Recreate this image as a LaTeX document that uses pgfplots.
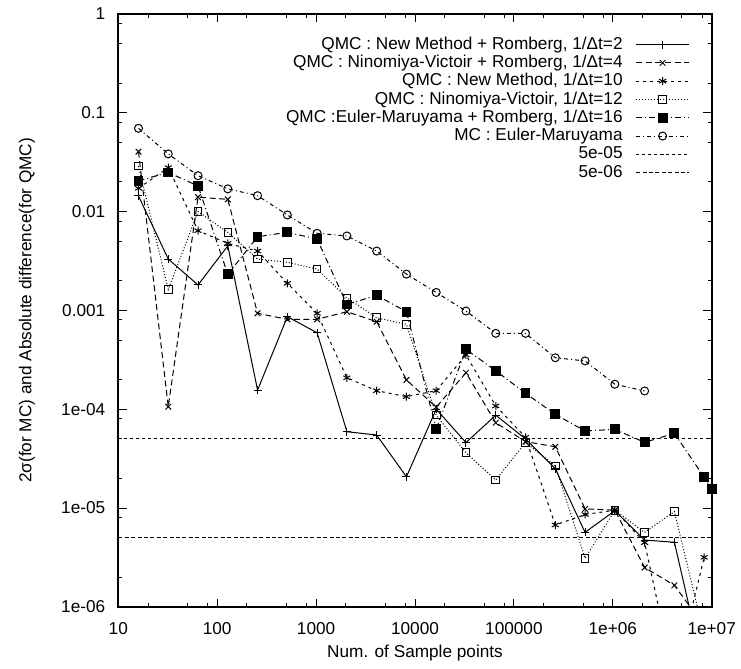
\documentclass[border=0pt]{standalone}
\usepackage{fontspec}
\setmainfont{Liberation Sans}
\usepackage{pgfplots}
\pgfplotsset{compat=1.18}
\begin{document}
\begin{tikzpicture}[font=\fontsize{8.6}{10.3}\selectfont]
\begin{loglogaxis}[
  scale only axis, width=296.7pt, height=296.4pt,
  xmin=10, xmax=1e7, ymin=1e-6, ymax=1,
  xtick={10,100,1000,10000,100000,1000000,10000000},
  xticklabels={10,100,1000,10000,100000,1e+06,1e+07},
  ytick={1e-6,1e-5,1e-4,1e-3,1e-2,1e-1,1},
  yticklabels={1e-06,1e-05,1e-04,0.001,0.01,0.1,1},
  minor xtick={20,50,80,200,500,800,2000,5000,8000,20000,50000,80000,200000,500000,800000,2000000,5000000,8000000},
  minor ytick={2e-6,5e-6,8e-6,2e-5,5e-5,8e-5,2e-4,5e-4,8e-4,2e-3,5e-3,8e-3,2e-2,5e-2,8e-2,0.2,0.5,0.8},
  major tick length=4.15pt, minor tick length=2.1pt,
  tick align=inside,
  axis line style={line width=1pt},
  every tick/.style={black, line width=0.5pt},
  xticklabel style={yshift=-4.3pt},
  yticklabel style={xshift=-3pt},
  every axis x label/.style={at={(rel axis cs:0.5,-0.0776)}, anchor=center},
  every axis y label/.style={at={(rel axis cs:-0.1539,0.5)}, rotate=90, anchor=center},
  xlabel={Num. of Sample points},
  ylabel={2σ(for MC) and Absolute difference(for QMC)},
  every axis plot/.append style={line width=0.5pt, black},
  legend image code/.code={\draw[#1,mark indices={2}] plot coordinates {(0pt,0pt) (13.25pt,0pt) (26.5pt,0pt)};},
  legend style={at={(rel axis cs:1,1)}, anchor=north east, xshift=-10.85pt, yshift=-10.5pt,
    draw=none, fill=none, inner sep=0pt, column sep=6pt, row sep=0pt,
    nodes={inner sep=0.5pt, text height=6.35pt, text depth=1.8pt}},
  legend cell align=right, legend plot pos=right,
]
\coordinate (SW) at (rel axis cs:0,0);
\coordinate (NE) at (rel axis cs:1,1);
% QMC : New Method + Romberg, 1/dt=2
\addplot[solid, mark=+, mark size=2pt, mark options={solid}] coordinates {
(16,0.0144) (32,0.00331) (64,0.00181) (128,0.0045) (256,0.000156) (512,0.000864)
(1024,0.000594) (2048,5.92e-5) (4096,5.48e-5) (8192,2.07e-5) (16384,1.0e-4)
(32768,4.6e-5) (65536,8.7e-5) (131072,5.0e-5) (262144,2.5e-5) (524288,5.67e-6)
(1048576,9.4e-6) (2097152,4.74e-6) (4194304,4.5e-6) (8388608,2.2e-7)};
\addlegendentry{QMC : New Method + Romberg, 1/Δt=2}
% QMC : NV + Romberg, 1/dt=4
\addplot[dash pattern=on 3pt off 1.8pt, mark=x, mark size=2pt, mark options={solid}] coordinates {
(16,0.0404) (32,1.06e-4) (64,0.014) (128,0.0133) (256,0.000934) (512,0.000813)
(1024,0.000813) (2048,0.00097) (4096,0.000769) (8192,0.000198) (16384,1.05e-4)
(32768,0.000234) (65536,7.3e-5) (131072,4.7e-5) (262144,4.17e-5) (524288,9.8e-6)
(1048576,9.5e-6) (2097152,2.5e-6) (4194304,1.65e-6) (8388608,6.4e-7)};
\addlegendentry{QMC : Ninomiya-Victoir + Romberg, 1/Δt=4}
% QMC : New Method, 1/dt=10
\addplot[dash pattern=on 1.5pt off 2pt, mark=asterisk, mark size=2pt, mark options={solid}] coordinates {
(16,0.0172) (32,0.0279) (64,0.00641) (128,0.00477) (256,0.00399) (512,0.00188)
(1024,0.000934) (2048,0.000208) (4096,0.000154) (8192,0.000134) (16384,0.000154)
(32768,0.000354) (65536,0.000108) (131072,5.2e-5) (262144,6.73e-6) (524288,8.6e-6)
(1048576,9.5e-6) (2097152,4.46e-6) (4194304,1.8e-7) (8388608,3.17e-6)};
\addlegendentry{QMC : New Method, 1/Δt=10}
% QMC : NV, 1/dt=12
\addplot[dash pattern=on 0.5pt off 1pt, mark=square, mark size=1.9pt, mark options={solid}] coordinates {
(16,0.0289) (32,0.00163) (64,0.01) (128,0.00617) (256,0.00331) (512,0.00307)
(1024,0.00262) (2048,0.00134) (4096,0.000843) (8192,0.000723) (16384,8.7e-5)
(32768,3.63e-5) (65536,1.92e-5) (131072,4.6e-5) (262144,2.66e-5) (524288,3.1e-6)
(1048576,9.5e-6) (2097152,5.67e-6) (4194304,9.2e-6) (8388608,5.2e-7)};
\addlegendentry{QMC : Ninomiya-Victoir, 1/Δt=12}
% QMC : EM + Romberg, 1/dt=16
\addplot[dash pattern=on 3pt off 1.5pt on 0.5pt off 1.5pt, mark=square*, mark size=2.2pt, mark options={solid}] coordinates {
(16,0.0205) (32,0.0249) (64,0.0182) (128,0.00232) (256,0.00557) (512,0.00617)
(1024,0.00528) (2048,0.00115) (4096,0.00142) (8192,0.00097) (16384,6.3e-5)
(32768,0.000404) (65536,0.000245) (131072,0.000145) (262144,8.87e-5) (524288,6.02e-5)
(1048576,6.25e-5) (2097152,4.62e-5) (4194304,5.7e-5) (8388608,2.05e-5) (10000000,1.55e-5)};
\addlegendentry{QMC :Euler-Maruyama + Romberg, 1/Δt=16}
% MC : EM
\addplot[dash pattern=on 2pt off 1.5pt on 0.5pt off 1.5pt, mark=o, mark size=2pt, mark options={solid}] coordinates {
(16,0.0697) (32,0.0384) (64,0.0231) (128,0.0170) (256,0.0145) (512,0.00924)
(1024,0.00603) (2048,0.00567) (4096,0.00399) (8192,0.00233) (16384,0.00152)
(32768,0.000986) (65536,0.000586) (131072,0.000586) (262144,0.000332) (524288,0.000308)
(1048576,0.000179) (2097152,0.000153)};
\addlegendentry{MC : Euler-Maruyama}
\addplot[dash pattern=on 1.5pt off 1.5pt] coordinates {(10,5e-5) (1e7,5e-5)};
\addlegendentry{5e-05}
\addplot[dash pattern=on 2pt off 1.2pt] coordinates {(10,5e-6) (1e7,5e-6)};
\addlegendentry{5e-06}
\end{loglogaxis}
\pgfresetboundingbox
\path ([xshift=-59.15pt,yshift=-30.6pt]SW) rectangle ([xshift=14.65pt,yshift=7pt]NE);
\end{tikzpicture}
\end{document}
